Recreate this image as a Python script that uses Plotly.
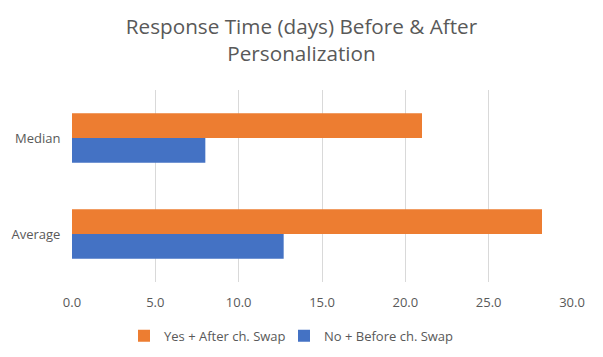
import plotly.graph_objects as go

categories = ["Average", "Median"]
before_values = [12.7, 8.0]
after_values = [28.2, 21.0]
before_name = "No + Before ch. Swap"
after_name = "Yes + After ch. Swap"
x_ticks = [0, 5, 10, 15, 20, 25, 30]

FONT = "Open Sans, sans-serif"
GREY = "#595959"

fig = go.Figure()
fig.add_trace(go.Bar(y=categories, x=before_values, name=before_name, orientation="h",
                     marker=dict(color="#4472C4", line=dict(width=0)), legend="legend2"))
fig.add_trace(go.Bar(y=categories, x=after_values, name=after_name, orientation="h",
                     marker=dict(color="#ED7D31", line=dict(width=0)), legend="legend"))

legend_common = dict(orientation="h", xanchor="left", y=-0.28, yanchor="middle",
                     font=dict(size=13, color=GREY), itemwidth=30,
                     bgcolor="rgba(0,0,0,0)")

fig.update_layout(
    width=603, height=357,
    margin=dict(l=72, r=31, t=90, b=75, autoexpand=False),
    paper_bgcolor="white", plot_bgcolor="white",
    barmode="group", bargap=0.485, bargroupgap=0,
    title=dict(text="Response Time (days) Before & After<br>Personalization",
               x=0.5, xanchor="center", y=0.905, yanchor="middle",
               font=dict(family=FONT, size=20.7, color=GREY)),
    font=dict(family=FONT, size=13, color=GREY),
    legend=dict(x=0.104, **legend_common),
    legend2=dict(x=0.424, **legend_common),
    showlegend=True,
)
fig.update_xaxes(range=[0, 30], tickvals=x_ticks, tickformat=".1f",
                 showgrid=True, gridcolor="#D9D9D9", gridwidth=1,
                 zeroline=False, showline=False, ticks="outside", ticklen=8,
                 tickcolor="rgba(0,0,0,0)", automargin=False,
                 tickfont=dict(size=13, color=GREY))
fig.update_yaxes(range=[-0.5, 1.5], showgrid=False, zeroline=False, showline=False,
                 ticks="outside", ticklen=8, tickcolor="rgba(0,0,0,0)", automargin=False,
                 tickfont=dict(size=13, color=GREY))

fig.write_html("out.html", config={"displayModeBar": False},
               post_script="document.body.style.margin='0';")
